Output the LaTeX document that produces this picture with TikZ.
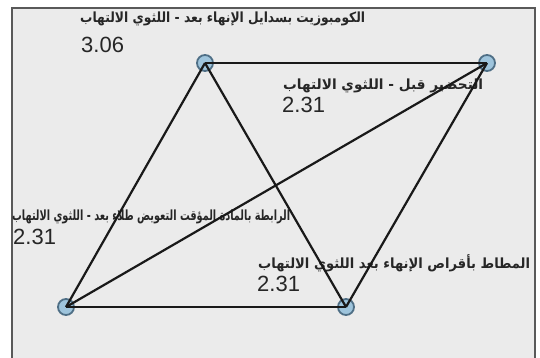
\documentclass[tikz,border=0pt]{standalone}
\usepackage{fontspec}
\usepackage{graphicx}
\setmainfont{Liberation Sans}
\newfontfamily\arabicfont[Script=Arabic]{DejaVu Sans}
\TeXXeTstate=1
\begin{document}
\begin{tikzpicture}[x=1pt,y=-1pt,
  vert/.style={circle,draw=vborder,fill=vfill,line width=1.8pt,minimum size=16pt,inner sep=0pt},
  edge/.style={line width=2.2pt,draw=black!90},
  artxt/.style={anchor=west,inner sep=0pt,font=\arabicfont\bfseries\fontsize{14pt}{16pt}\selectfont,text=black!85},
  numtxt/.style={anchor=west,inner sep=0pt,font=\fontsize{22pt}{24pt}\selectfont,text=black!85}]
\definecolor{vfill}{HTML}{9EC4DC}
\definecolor{vborder}{HTML}{4F6F86}
\definecolor{bgfill}{HTML}{EBEBEB}
\useasboundingbox (0,0) rectangle (540,358);
\fill[white] (0,0) rectangle (540,358);
\fill[bgfill] (12,8) rectangle (535,358);
\draw[line width=1.5pt,draw=black!65] (12,358) -- (12,8) -- (535,8) -- (535,358);
% labels
\node[artxt] (la) at (80,19) {\resizebox{285pt}{\height}{\beginR الكومبوزيت بسدايل الإنهاء بعد - اللثوي الالتهاب\endR}};
\node[numtxt] (na) at (81,45) {3.06};
\node[artxt] (lb) at (283,86) {\resizebox{200pt}{\height}{\beginR التحضير قبل - اللثوي الالتهاب\endR}};
\node[numtxt] (nb) at (282,105) {2.31};
\node[artxt] (lc) at (12,217) {\resizebox{278pt}{\height}{\beginR الرابطة بالمادة المؤقت التعويض طلاء بعد - اللثوي الالتهاب\endR}};
\node[numtxt] (nc) at (13,237) {2.31};
\node[artxt] (ld) at (258,263) {\resizebox{272pt}{\height}{\beginR المطاط بأقراص الإنهاء بعد اللثوي الالتهاب\endR}};
\node[numtxt] (nd) at (257,284) {2.31};
% vertices
\node[vert] (a) at (205,63) {};
\node[vert] (b) at (487,63) {};
\node[vert] (c) at (66,307) {};
\node[vert] (d) at (346,307) {};
% edges
\draw[edge] (a.center) -- (b.center);
\draw[edge] (a.center) -- (c.center);
\draw[edge] (a.center) -- (d.center);
\draw[edge] (b.center) -- (c.center);
\draw[edge] (b.center) -- (d.center);
\draw[edge] (c.center) -- (d.center);
\end{tikzpicture}
\end{document}
